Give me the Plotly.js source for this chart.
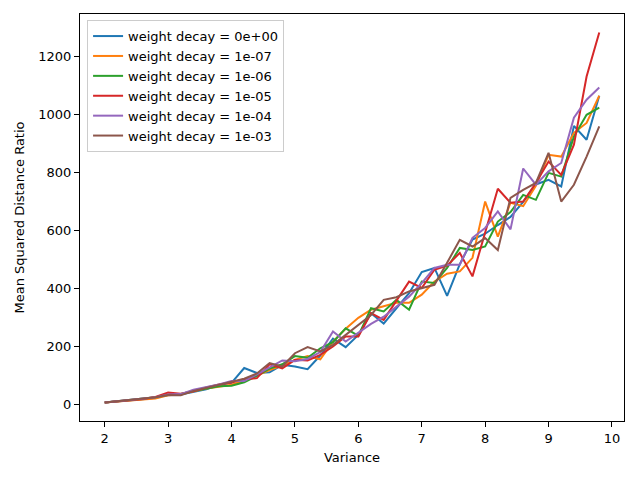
<!DOCTYPE html>
<html>
<head>
<meta charset="utf-8">
<script src="https://cdn.plot.ly/plotly-3.0.1.min.js"></script>
<style>
  html, body { margin: 0; padding: 0; background: white; }
  #grafica { width: 640px; height: 480px; }
</style>
</head>
<body>
<div id="grafica"></div>
<script>
// valores
const varianza = [2.0, 2.2, 2.4, 2.6, 2.8, 3.0, 3.2, 3.4, 3.6, 3.8,
  4.0, 4.2, 4.4, 4.6, 4.8, 5.0, 5.2, 5.4, 5.6, 5.8,
  6.0, 6.2, 6.4, 6.6, 6.8, 7.0, 7.2, 7.4, 7.6, 7.8,
  8.0, 8.2, 8.4, 8.6, 8.8, 9.0, 9.2, 9.4, 9.6, 9.8];

const wd0 = [8, 11, 15, 19, 24, 34, 36, 46, 54, 68,
  76, 127, 110, 112, 138, 132, 123, 170, 228, 199,
  241, 316, 280, 333, 385, 458, 472, 376, 485, 570,
  590, 620, 648, 700, 760, 776, 753, 962, 914, 1066];

const wd1e7 = [8, 11, 15, 18, 22, 33, 36, 47, 56, 62,
  69, 82, 100, 120, 135, 155, 168, 157, 218, 262,
  300, 328, 340, 352, 352, 380, 425, 452, 460, 507,
  701, 580, 697, 685, 755, 862, 856, 938, 972, 1066];

const wd1e6 = [8, 12, 16, 20, 26, 35, 37, 48, 57, 64,
  66, 78, 100, 125, 140, 168, 162, 195, 216, 264,
  238, 333, 322, 362, 328, 425, 420, 472, 541, 534,
  546, 632, 665, 724, 707, 800, 787, 925, 1000, 1025];

const wd1e5 = [8, 12, 16, 20, 27, 42, 38, 47, 60, 70,
  77, 88, 92, 140, 126, 155, 153, 172, 201, 236,
  236, 316, 293, 360, 425, 403, 466, 480, 524, 443,
  590, 745, 697, 701, 765, 839, 793, 897, 1132, 1284];

const wd1e4 = [8, 12, 16, 20, 26, 36, 37, 52, 60, 70,
  82, 82, 105, 128, 153, 150, 158, 182, 253, 218,
  247, 279, 304, 340, 373, 420, 472, 483, 483, 576,
  610, 667, 605, 815, 759, 805, 834, 990, 1052, 1094];

const wd1e3 = [8, 12, 16, 20, 26, 34, 33, 48, 58, 70,
  80, 90, 108, 144, 132, 178, 199, 184, 207, 241,
  276, 310, 362, 371, 391, 403, 414, 490, 569, 546,
  575, 534, 714, 741, 765, 869, 701, 759, 856, 960];

const etiquetas = ["weight decay = 0e+00", "weight decay = 1e-07", "weight decay = 1e-06",
  "weight decay = 1e-05", "weight decay = 1e-04", "weight decay = 1e-03"];
const series = [wd0, wd1e7, wd1e6, wd1e5, wd1e4, wd1e3];
const colores = ["#1f77b4", "#ff7f0e", "#2ca02c", "#d62728", "#9467bd", "#8c564b"];

const trazas = series.map((valores, i) => ({
  type: "scatter",
  mode: "lines",
  x: varianza,
  y: valores,
  name: etiquetas[i],
  line: { color: colores[i], width: 2 }
}));

const ejeComun = {
  showline: true,
  linecolor: "black",
  linewidth: 1,
  mirror: true,
  ticks: "outside",
  ticklen: 5,
  tickcolor: "black",
  showgrid: false,
  zeroline: false,
  tickfont: { size: 13, color: "black" }
};

const layout = {
  width: 640,
  height: 480,
  margin: { l: 80, r: 16, t: 14, b: 59 },
  paper_bgcolor: "white",
  plot_bgcolor: "white",
  font: { family: "DejaVu Sans", size: 13, color: "black" },
  xaxis: {
    ...ejeComun,
    range: [1.61, 10.19],
    tickvals: [2, 3, 4, 5, 6, 7, 8, 9, 10],
    title: { text: "Variance", font: { size: 13 }, standoff: 8 }
  },
  yaxis: {
    ...ejeComun,
    range: [-55.8, 1347.8],
    tickvals: [0, 200, 400, 600, 800, 1000, 1200],
    title: { text: "Mean Squared Distance Ratio", font: { size: 13 }, standoff: 10 }
  },
  showlegend: true,
  legend: {
    x: 0.013,
    y: 0.985,
    xanchor: "left",
    yanchor: "top",
    bgcolor: "rgba(255,255,255,0.8)",
    bordercolor: "#cccccc",
    borderwidth: 1,
    font: { size: 13 },
    tracegroupgap: 0
  }
};

Plotly.newPlot("grafica", trazas, layout, { staticPlot: true, displayModeBar: false });
</script>
</body>
</html>
